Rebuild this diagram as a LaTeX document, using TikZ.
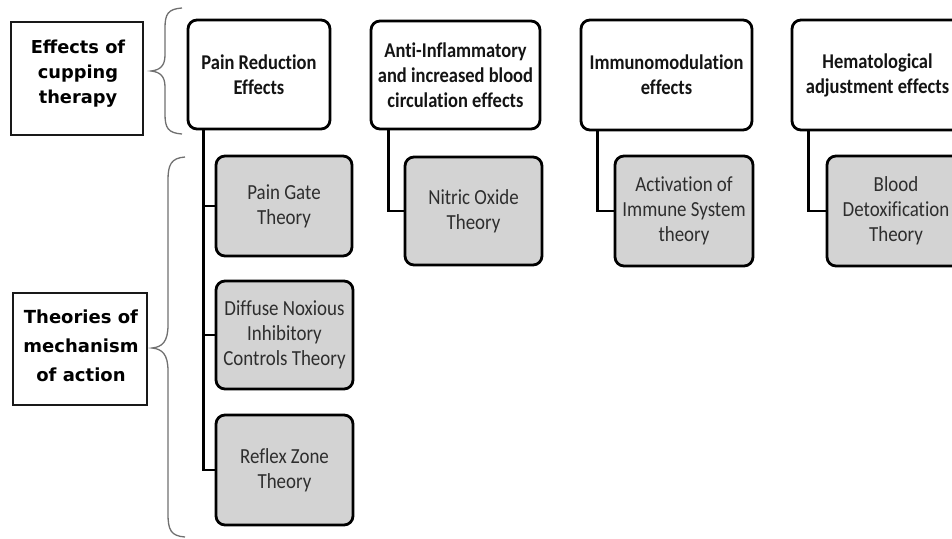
\documentclass[tikz,border=0pt]{standalone}
\usepackage{fontspec}
\newfontfamily\calfont[FakeStretch=0.88,Ligatures=NoCommon]{Carlito}
\newfontfamily\dvfont{DejaVu Sans}
\definecolor{boxgray}{HTML}{D3D3D3}
\definecolor{bracegray}{HTML}{707070}
\definecolor{txtdark}{HTML}{141414}
\definecolor{txtgray}{HTML}{2E2E2E}
\begin{document}
\begin{tikzpicture}[x=1pt,y=-1pt,
  topbox/.style={draw=black, line width=2.8pt, rounded corners=9pt, fill=white,
    align=center, inner sep=0pt, text=txtdark,
    font=\calfont\bfseries\fontsize{21}{25}\selectfont},
  graybox/.style={draw=black, line width=2.8pt, rounded corners=9pt, fill=boxgray,
    align=center, inner sep=0pt, text=txtgray,
    font=\calfont\fontsize{21.5}{25}\selectfont},
  leftbox/.style={draw=black!90, line width=2pt, fill=white, inner sep=0pt},
  lefttext/.style={align=center, inner sep=0pt, text=black,
    font=\dvfont\bfseries\fontsize{17.8}{25}\selectfont},
  conn/.style={draw=black, line width=2.8pt},
  bracepath/.style={draw=bracegray, line width=1.3pt}
]
\useasboundingbox (0,0) rectangle (952,538);
\clip (0,0) rectangle (952,538);

% left category boxes
\node[leftbox, minimum width=132pt, minimum height=113pt] (effbox) at (77,78.5) {};
\node[lefttext] (efftext) at (78,74) {Effects of\\cupping\\therapy};
\node[leftbox, minimum width=134pt, minimum height=112pt] (thbox) at (80,349) {};
\node[lefttext, font=\dvfont\bfseries\fontsize{18}{29}\selectfont] (thtext) at (81,346) {Theories of\\mechanism\\of action};

% braces
\draw[bracepath] (182,8) .. controls (168,9) and (165,14) .. (165,28) -- (165,55)
  .. controls (165,66) and (160,70) .. (151,71)
  .. controls (160,72) and (165,76) .. (165,87) -- (165,114)
  .. controls (165,128) and (168,133) .. (182,134);
\draw[bracepath] (185,157) .. controls (171,158) and (168,165) .. (168,180) -- (168,325)
  .. controls (168,342) and (162,347) .. (152,348)
  .. controls (162,349) and (168,354) .. (168,371) -- (168,514)
  .. controls (168,530) and (171,536) .. (185,537);

% effect boxes
\node[topbox, minimum width=142pt, minimum height=109pt] (pr) at (259,74.5) {Pain Reduction\\Effects};
\node[topbox, minimum width=169pt, minimum height=108pt] (ai) at (455.5,75) {Anti-Inflammatory\\and increased blood\\circulation effects};
\node[topbox, minimum width=171pt, minimum height=110pt] (im) at (666.5,75) {Immunomodulation\\effects};
\node[topbox, minimum width=171pt, minimum height=110pt] (he) at (877.5,75) {Hematological\\adjustment effects};

% theory boxes
\node[graybox, minimum width=136pt, minimum height=100pt] (pg) at (284,206) {Pain Gate\\Theory};
\node[graybox, minimum width=137pt, minimum height=108pt] (dn) at (284.5,335) {Diffuse Noxious\\Inhibitory\\Controls Theory};
\node[graybox, minimum width=137pt, minimum height=110pt] (rz) at (284.5,470) {Reflex Zone\\Theory};
\node[graybox, minimum width=137pt, minimum height=108pt] (no) at (473.5,211) {Nitric Oxide\\Theory};
\node[graybox, minimum width=138pt, minimum height=110pt] (ac) at (684,211) {Activation of\\Immune System\\theory};
\node[graybox, minimum width=138pt, minimum height=110pt] (bd) at (896,211) {Blood\\Detoxification\\Theory};

% connectors
\draw[conn] ([xshift=17pt]pr.south west) |- (pg.west);
\draw[conn] ([xshift=17pt]pr.south west) |- (dn.west);
\draw[conn] ([xshift=17pt]pr.south west) |- (rz.west);
\draw[conn] ([xshift=19pt]ai.south west) |- (no.west);
\draw[conn] ([xshift=18pt]im.south west) |- (ac.west);
\draw[conn] ([xshift=18pt]he.south west) |- (bd.west);
\end{tikzpicture}
\end{document}
